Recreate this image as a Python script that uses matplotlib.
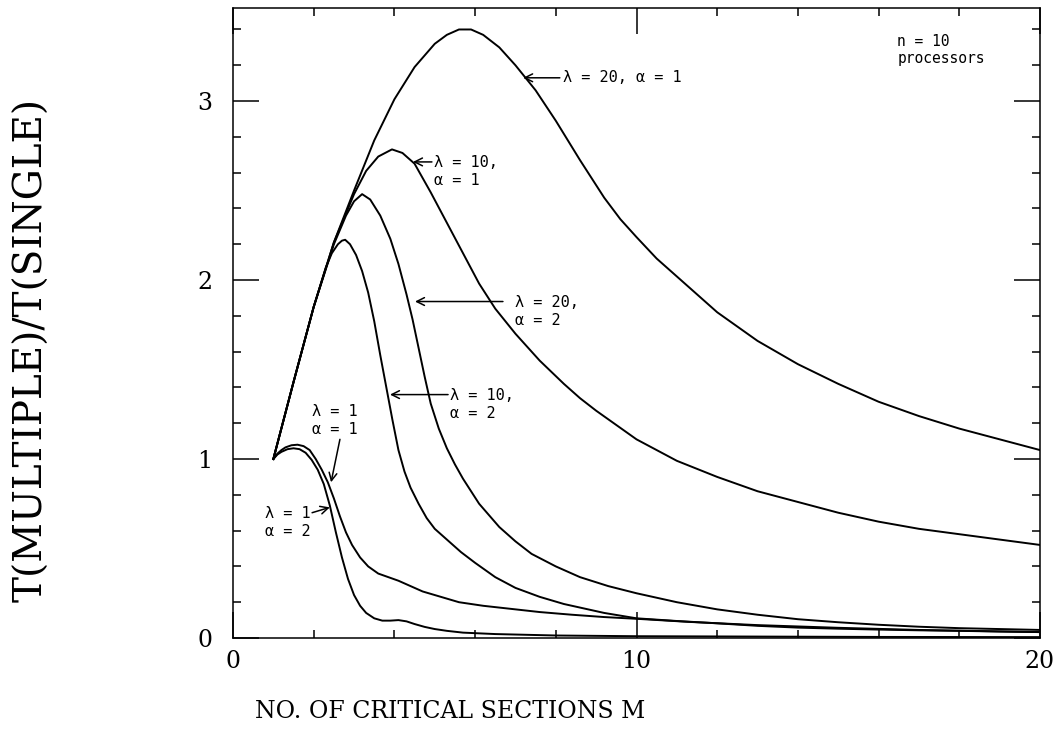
import matplotlib
matplotlib.use('Agg')
import matplotlib.pyplot as plt
from matplotlib.ticker import MultipleLocator

# T(multiple)/T(single) vs number of critical sections M, n = 10 processors
# lam = 20, alpha = 1
x_l20_a1 = [1.0, 1.5, 2.0, 2.5, 3.0, 3.5, 4.0, 4.5, 5.0, 5.3, 5.6, 5.9, 6.2, 6.6, 7.0, 7.5,
            8.0, 8.6, 9.2, 9.6, 10.0, 10.5, 11.0, 12.0, 13.0, 14.0, 15.0, 16.0, 17.0, 18.0, 19.0, 20.0]
y_l20_a1 = [1.0, 1.43, 1.85, 2.21, 2.5, 2.78, 3.01, 3.19, 3.32, 3.37, 3.40, 3.40, 3.37, 3.30, 3.20, 3.06,
            2.89, 2.67, 2.46, 2.34, 2.24, 2.12, 2.02, 1.82, 1.66, 1.53, 1.42, 1.32, 1.24, 1.17, 1.11, 1.05]

# lam = 10, alpha = 1
x_l10_a1 = [1.0, 1.5, 2.0, 2.5, 3.0, 3.3, 3.6, 3.94, 4.2, 4.5, 4.9, 5.3, 5.7, 6.1, 6.5, 7.0,
            7.6, 8.2, 8.6, 9.0, 10.0, 11.0, 12.0, 13.0, 14.0, 15.0, 16.0, 17.0, 18.0, 19.0, 20.0]
y_l10_a1 = [1.0, 1.43, 1.85, 2.21, 2.48, 2.61, 2.69, 2.73, 2.71, 2.65, 2.49, 2.32, 2.15, 1.98, 1.84, 1.70,
            1.55, 1.42, 1.34, 1.27, 1.11, 0.99, 0.90, 0.82, 0.76, 0.70, 0.65, 0.61, 0.58, 0.55, 0.52]

# lam = 20, alpha = 2
x_l20_a2 = [1.0, 1.5, 2.0, 2.5, 2.8, 3.0, 3.2, 3.4, 3.65, 3.9, 4.1, 4.3, 4.45, 4.6, 4.75, 4.9, 5.1, 5.3,
            5.5, 5.7, 6.1, 6.6, 7.0, 7.4, 8.0, 8.6, 9.3, 10.0, 11.0, 12.0, 13.0, 14.0, 15.0, 16.0,
            17.0, 18.0, 19.0, 20.0]
y_l20_a2 = [1.0, 1.43, 1.85, 2.2, 2.36, 2.44, 2.48, 2.45, 2.36, 2.23, 2.09, 1.92, 1.78, 1.62, 1.46, 1.31, 1.17, 1.06,
            0.97, 0.89, 0.75, 0.62, 0.54, 0.47, 0.40, 0.34, 0.29, 0.25, 0.20, 0.16, 0.13, 0.105, 0.088, 0.074,
            0.063, 0.055, 0.05, 0.045]

# lam = 10, alpha = 2
x_l10_a2 = [1.0, 1.5, 2.0, 2.3, 2.45, 2.6, 2.7, 2.78, 2.9, 3.05, 3.2, 3.35, 3.5, 3.65, 3.8, 3.95, 4.1,
            4.25, 4.4, 4.6, 4.8, 5.0, 5.3, 5.65, 6.0, 6.5, 7.0, 7.6, 8.2, 9.2, 10.0, 11.0, 12.0, 13.0,
            14.0, 15.0, 16.0, 17.0, 18.0, 19.0, 20.0]
y_l10_a2 = [1.0, 1.43, 1.85, 2.07, 2.15, 2.2, 2.22, 2.225, 2.2, 2.14, 2.05, 1.93, 1.77, 1.58, 1.40, 1.22, 1.05,
            0.93, 0.84, 0.75, 0.67, 0.61, 0.55, 0.48, 0.42, 0.34, 0.28, 0.23, 0.19, 0.14, 0.11, 0.095, 0.082, 0.068,
            0.058, 0.052, 0.047, 0.043, 0.04, 0.036, 0.033]

# lam = 1, alpha = 1
x_l1_a1 = [1.0, 1.1, 1.2, 1.3, 1.45, 1.6, 1.75, 1.9, 2.05, 2.2, 2.35, 2.5, 2.65, 2.8, 2.95, 3.15, 3.35,
           3.6, 3.85, 4.1, 4.4, 4.7, 5.0, 5.6, 6.2, 6.8, 7.6, 8.4, 9.2, 10.1, 11.3, 13.0, 15.0, 17.0, 20.0]
y_l1_a1 = [1.0, 1.03, 1.05, 1.065, 1.077, 1.08, 1.072, 1.05, 1.0, 0.94, 0.87, 0.78, 0.68, 0.59, 0.52, 0.45, 0.40,
           0.36, 0.34, 0.32, 0.29, 0.26, 0.24, 0.20, 0.18, 0.165, 0.145, 0.13, 0.117, 0.106, 0.09, 0.072, 0.057,
           0.045, 0.033]

# lam = 1, alpha = 2
x_l1_a2 = [1.0, 1.1, 1.2, 1.35, 1.5, 1.65, 1.8, 1.95, 2.1, 2.25, 2.4, 2.55, 2.7, 2.85, 3.0, 3.15, 3.3,
           3.5, 3.7, 3.9, 4.1, 4.3, 4.5, 4.75, 5.0, 5.3, 5.7, 6.5, 8.0, 10.0, 13.0, 16.0, 20.0]
y_l1_a2 = [1.0, 1.025, 1.04, 1.055, 1.06, 1.055, 1.035, 0.995, 0.94, 0.86, 0.74, 0.59, 0.45, 0.33, 0.24, 0.18, 0.14,
           0.11, 0.097, 0.097, 0.10, 0.093, 0.078, 0.062, 0.05, 0.04, 0.03, 0.022, 0.014, 0.01, 0.008, 0.006, 0.005]

curves = [(x_l20_a1, y_l20_a1), (x_l10_a1, y_l10_a1), (x_l20_a2, y_l20_a2),
          (x_l10_a2, y_l10_a2), (x_l1_a1, y_l1_a1), (x_l1_a2, y_l1_a2)]

x_ticks = [0, 10, 20]
y_ticks = [0, 1, 2, 3]

plt.rcParams['font.family'] = 'DejaVu Serif'
mono = 'DejaVu Sans Mono'

fig = plt.figure(figsize=(10.6, 7.34), dpi=100)
ax = fig.add_axes([233 / 1060, 96 / 734, 807 / 1060, 630 / 734])

for (xs, ys) in curves:
    ax.plot(xs, ys, color='black', lw=1.4)

ax.set_xlim(0, 20)
ax.set_ylim(0, 3.52)
ax.set_xticks(x_ticks)
ax.set_yticks(y_ticks)
ax.xaxis.set_minor_locator(MultipleLocator(2))
ax.yaxis.set_minor_locator(MultipleLocator(0.2))
ax.tick_params(which='both', direction='in', top=True, right=True, width=1.1, labelsize=17)
ax.tick_params(which='major', length=18.5)
ax.tick_params(which='minor', length=6)
ax.tick_params(axis='x', pad=9)
ax.tick_params(axis='y', pad=15)
for s in ax.spines.values():
    s.set_linewidth(1.1)

# annotations: arrow tip, arrow tail, then the text
arrow = dict(arrowstyle='->', lw=1.1, color='black', shrinkA=0, shrinkB=0, mutation_scale=14)
ax.annotate('', xy=(7.19, 3.13), xytext=(8.1, 3.13), arrowprops=arrow)
ax.text(8.18, 3.13, 'λ = 20, α = 1', family=mono, fontsize=11, ha='left', va='center')

ax.annotate('', xy=(4.46, 2.66), xytext=(4.93, 2.66), arrowprops=arrow)
ax.text(4.97, 2.605, 'λ = 10,\nα = 1', family=mono, fontsize=11, ha='left', va='center', linespacing=1.25)

ax.annotate('', xy=(4.51, 1.88), xytext=(6.69, 1.88), arrowprops=arrow)
ax.text(6.99, 1.825, 'λ = 20,\nα = 2', family=mono, fontsize=11, ha='left', va='center', linespacing=1.25)

ax.annotate('', xy=(3.89, 1.36), xytext=(5.33, 1.36), arrowprops=arrow)
ax.text(5.38, 1.305, 'λ = 10,\nα = 2', family=mono, fontsize=11, ha='left', va='center', linespacing=1.25)

ax.annotate('', xy=(2.43, 0.87), xytext=(2.65, 1.11), arrowprops=arrow)
ax.text(1.96, 1.215, 'λ = 1\nα = 1', family=mono, fontsize=11, ha='left', va='center', linespacing=1.25)

ax.annotate('', xy=(2.40, 0.73), xytext=(1.96, 0.70), arrowprops=arrow)
ax.text(0.79, 0.645, 'λ = 1\nα = 2', family=mono, fontsize=11, ha='left', va='center', linespacing=1.25)

ax.text(16.46, 3.285, 'n = 10\nprocessors', family=mono, fontsize=10.5, ha='left', va='center', linespacing=1.15)

fig.text(450 / 1060, 1 - 712 / 734, 'NO. OF CRITICAL SECTIONS M', fontsize=17, ha='center', va='center')
fig.text(32 / 1060, 1 - 350 / 734, 'T(MULTIPLE)/T(SINGLE)', fontsize=28, rotation=90, ha='center', va='center')

fig.savefig('out.png', dpi=100)
